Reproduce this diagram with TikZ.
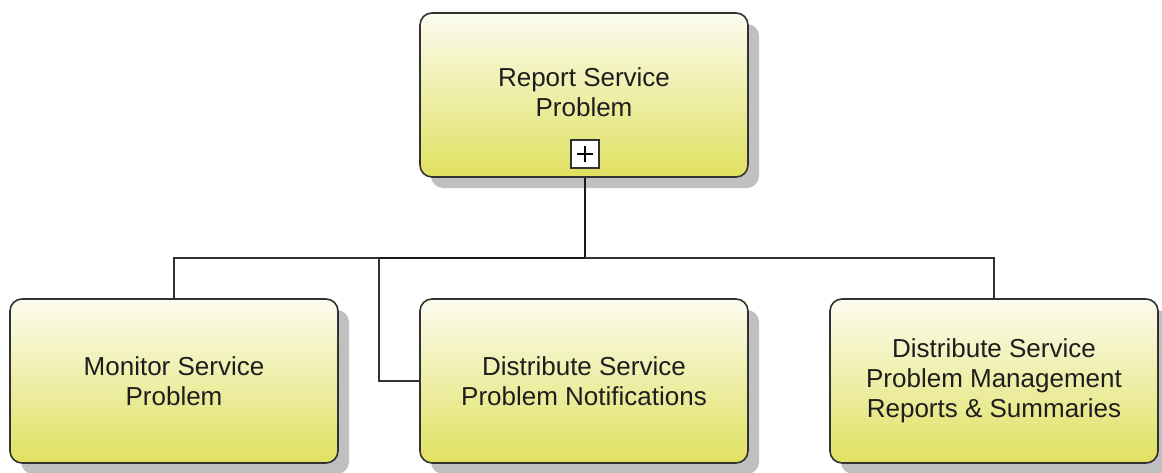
\documentclass[tikz,border=0pt]{standalone}
\usepackage{fontspec}
\setmainfont{Liberation Sans}
\usetikzlibrary{shadows}
\definecolor{boxtop}{RGB}{252,252,240}
\definecolor{boxbot}{RGB}{224,224,96}
\definecolor{boxline}{RGB}{50,50,50}
\definecolor{shade}{RGB}{192,192,192}
\definecolor{txt}{RGB}{30,30,30}
\tikzset{
  tasktext/.style={align=center, text=txt, font=\fontsize{26}{30}\selectfont, inner sep=0pt},
  task/.style={rectangle, rounded corners=12pt, draw=boxline, line width=1.6pt,
    top color=boxtop, bottom color=boxbot, minimum width=328pt, minimum height=164pt,
    inner sep=0pt, tasktext,
    drop shadow={shadow xshift=11pt, shadow yshift=-11pt, fill=shade, opacity=1}},
  conn/.style={draw=boxline, line width=2pt},
  mainconn/.style={draw=black!90, line width=2.4pt},
  plusbox/.style={rectangle, draw=boxline, fill=white, line width=1.4pt,
    minimum width=28pt, minimum height=28pt, inner sep=0pt,
    path picture={\draw[line width=1.6pt, black]
      ([xshift=-8pt]path picture bounding box.center) -- ([xshift=8pt]path picture bounding box.center)
      ([yshift=-8pt]path picture bounding box.center) -- ([yshift=8pt]path picture bounding box.center);}}
}
\begin{document}
\begin{tikzpicture}[x=1pt,y=-1pt]
\useasboundingbox (0,0) rectangle (1162,472);
\node[task, label={[tasktext, yshift=3pt]center:Report Service\\Problem}] (top) at (584,95) {};
\node[plusbox] (plus) at (585,154) {};
\node[task] (mon) at (174,381) {Monitor Service\\Problem};
\node[task] (dist) at (584,381) {Distribute Service\\Problem Notifications};
\node[task] (rep) at (994,381) {Distribute Service\\Problem Management\\Reports \& Summaries};
\coordinate (j) at (585,258);
\coordinate (k) at (379,258);
\draw[mainconn] (plus.south |- top.south) -- (j) -- (k);
\draw[conn] (k) -| (mon.north);
\draw[conn] (j) -| (rep.north);
\draw[conn] (k) |- (dist.west);
\end{tikzpicture}
\end{document}
